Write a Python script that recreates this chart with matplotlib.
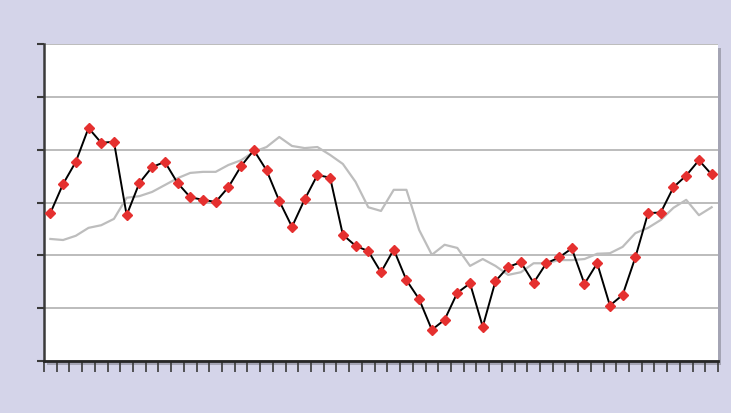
import matplotlib
matplotlib.use("Agg")
import matplotlib.pyplot as plt
from matplotlib.patches import Rectangle
import numpy as np

series_main = [28.0, 33.5, 37.7, 44.1, 41.3, 41.5, 27.6, 33.7, 36.7, 37.7,
               33.7, 31.0, 30.5, 30.1, 32.9, 36.9, 39.9, 36.1, 30.3, 25.4,
               30.6, 35.2, 34.7, 23.9, 21.8, 20.8, 16.8, 21.1, 15.3, 11.7,
               5.9, 7.8, 12.9, 14.7, 6.5, 15.1, 17.8, 18.7, 14.8, 18.5,
               19.6, 21.3, 14.6, 18.5, 10.5, 12.5, 19.6, 28.0, 28.1, 32.9,
               35.1, 38.0, 35.3]
series_avg = [23.1, 22.9, 23.7, 25.2, 25.7, 26.9, 30.9, 31.2, 32.0, 33.3,
              34.6, 35.6, 35.8, 35.8, 37.1, 38.0, 39.6, 40.5, 42.4, 40.7,
              40.3, 40.5, 39.0, 37.3, 33.9, 29.1, 28.4, 32.4, 32.4, 24.8,
              20.1, 22.0, 21.4, 18.0, 19.3, 18.0, 16.3, 16.8, 18.5, 18.5,
              19.1, 19.1, 19.3, 20.3, 20.4, 21.6, 24.2, 25.2, 26.7, 29.0,
              30.5, 27.6, 29.1]
y_ticks = [0, 10, 20, 30, 40, 50, 60]

n = len(series_main)
x = np.arange(n)

fig = plt.figure(figsize=(7.31, 4.13), dpi=100)
fig.patch.set_facecolor("#d4d4e9")

l, b, w, h = 44/731, (413-361)/413, (718-44)/731, (361-44)/413
# shadow behind the plot area
shadow = Rectangle((l + 3/731, b - 4/413), w, h, transform=fig.transFigure,
                   facecolor="#a4a4b4", edgecolor="none", zorder=-5)
fig.add_artist(shadow)
ax = fig.add_axes([l, b, w, h], zorder=2)
ax.set_facecolor("white")

ax.set_xlim(-0.5, n - 0.5)
ax.set_ylim(0, 60)
ax.set_yticks(y_ticks)
ax.set_xticks(np.arange(-0.5, n, 1.0))
ax.set_xticklabels([])
ax.set_yticklabels([])
ax.yaxis.grid(True, color="#b0b0b0", linewidth=1.2)
ax.set_axisbelow(True)

for s in ["top", "right"]:
    ax.spines[s].set_visible(False)
ax.spines["left"].set_color("#3a3a3a")
ax.spines["left"].set_linewidth(1.8)
ax.spines["bottom"].set_color("#262626")
ax.spines["bottom"].set_linewidth(2.0)
ax.tick_params(axis="x", direction="out", length=8, width=1.2, color="#3a3a3a")
ax.tick_params(axis="y", direction="out", length=5, width=1.5, color="#3a3a3a")

ax.plot(x, series_avg, color="#bdbdbd", linewidth=1.6, zorder=2)
ax.plot(x, series_main, color="black", linewidth=1.4, marker="D", markersize=5,
        markerfacecolor="#e5302f", markeredgecolor="#e5302f", zorder=3)

fig.savefig("out.png", dpi=100, facecolor=fig.get_facecolor())
